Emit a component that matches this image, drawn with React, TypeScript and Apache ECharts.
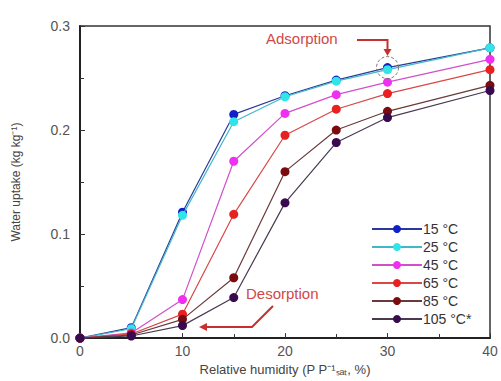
import React, { useEffect, useRef } from "react";
import * as echarts from "echarts";

const humidity = [0, 5, 10, 15, 20, 25, 30, 40];
const seriesNames = ["15 °C", "25 °C", "45 °C", "65 °C", "85 °C", "105 °C*"];
const v15 = [0, 0.01, 0.121, 0.215, 0.233, 0.248, 0.26, 0.279];
const v25 = [0, 0.009, 0.118, 0.208, 0.232, 0.247, 0.258, 0.279];
const v45 = [0, 0.005, 0.037, 0.17, 0.216, 0.234, 0.246, 0.268];
const v65 = [0, 0.004, 0.023, 0.119, 0.195, 0.22, 0.235, 0.258];
const v85 = [0, 0.003, 0.018, 0.058, 0.16, 0.2, 0.218, 0.243];
const v105 = [0, 0.002, 0.012, 0.039, 0.13, 0.188, 0.212, 0.238];
const seriesValues = [v15, v25, v45, v65, v85, v105];
const markerColors = ["#1020c8", "#30e4e8", "#f030f0", "#e82020", "#7a0c10", "#3a0a4e"];
const lineColors = ["#2a3a9a", "#40b8c8", "#d050c8", "#d84848", "#6a3a3a", "#4a3a50"];

export default function App() {
  const ref = useRef<HTMLDivElement>(null);
  useEffect(() => {
    const chart = echarts.init(ref.current!, null, { renderer: "svg" });
    const font = "Liberation Sans, Arial, sans-serif";
    const series = seriesNames.map((name, i) => ({
      name,
      type: "line",
      data: humidity.map((h, j) => [h, seriesValues[i][j]]),
      symbol: "circle",
      symbolSize: 9,
      itemStyle: { color: markerColors[i] },
      lineStyle: { color: lineColors[i], width: 1.2 },
      z: 2 + i,
    }));
    chart.setOption({
      animation: false,
      grid: { left: 80, top: 26, right: 11, bottom: 41, show: true, borderColor: "#333", borderWidth: 1.5 },
      xAxis: {
        type: "value",
        min: 0,
        max: 40,
        interval: 10,
        name: "Relative humidity (P P⁻¹ₛₐₜ, %)",
        nameLocation: "middle",
        nameGap: 24,
        nameTextStyle: { fontSize: 13, color: "#444", fontFamily: font },
        axisLine: { lineStyle: { color: "#222", width: 2 } },
        axisTick: { inside: true, length: 5, lineStyle: { color: "#333" } },
        minorTick: { show: true, splitNumber: 2, length: 4, lineStyle: { color: "#333" } },
        splitLine: { show: false },
        axisLabel: { fontSize: 14, color: "#555", fontFamily: font, margin: 6 },
      },
      yAxis: {
        type: "value",
        min: 0,
        max: 0.3,
        interval: 0.1,
        name: "Water uptake (kg kg⁻¹)",
        nameLocation: "middle",
        nameGap: 58,
        nameTextStyle: { fontSize: 12, color: "#444", fontFamily: font },
        axisLine: { lineStyle: { color: "#222", width: 2 } },
        axisTick: { inside: true, length: 5, lineStyle: { color: "#333" } },
        minorTick: { show: true, splitNumber: 2, length: 4, lineStyle: { color: "#333" } },
        splitLine: { show: false },
        axisLabel: {
          fontSize: 14,
          color: "#555",
          fontFamily: font,
          margin: 10,
          formatter: (v: number) => v.toFixed(1),
        },
      },
      legend: {
        orient: "vertical",
        left: 366,
        top: 217,
        itemWidth: 50,
        itemHeight: 10,
        itemGap: 4,
        textStyle: { fontSize: 14, color: "#333", fontFamily: font, padding: [0, 0, 0, -4] },
        data: seriesNames,
      },
      series,
    });
    const [cx, cy] = chart.convertToPixel({ gridIndex: 0 }, [30, v15[6]]) as number[];
    const red = "#c83030";
    chart.setOption({
      graphic: [
        { type: "circle", shape: { cx, cy, r: 11 }, style: { fill: "none", stroke: "#777", lineWidth: 1, lineDash: [3, 2] }, z: 20 },
        { type: "text", left: 266, top: 31, style: { text: "Adsorption", fill: "#d04848", font: `15px ${font}` }, z: 20 },
        { type: "polyline", shape: { points: [[357, 40], [cx, 40], [cx, 50]] }, style: { stroke: red, lineWidth: 2, fill: "none" }, z: 20 },
        { type: "polygon", shape: { points: [[cx - 4, 49], [cx + 4, 49], [cx, 56]] }, style: { fill: red }, z: 20 },
        { type: "text", left: 246, top: 286, style: { text: "Desorption", fill: "#d04848", font: `15px ${font}` }, z: 20 },
        { type: "polyline", shape: { points: [[273, 306], [252, 327], [206, 327]] }, style: { stroke: red, lineWidth: 2, fill: "none" }, z: 20 },
        { type: "polygon", shape: { points: [[207, 323], [207, 331], [199, 327]] }, style: { fill: red }, z: 20 },
      ],
    });
    return () => chart.dispose();
  }, []);
  return <div ref={ref} style={{ position: "fixed", left: 0, top: 0, width: 501, height: 381, background: "#fff" }} />;
}
